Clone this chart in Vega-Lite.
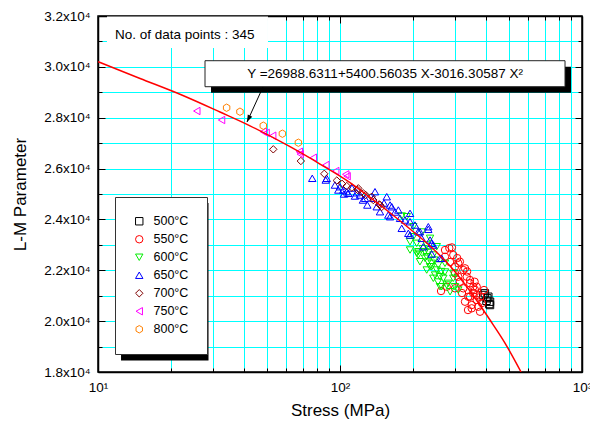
{
  "$schema": "https://vega.github.io/schema/vega-lite/v6.json",
  "width": 484,
  "height": 356,
  "autosize": {"type": "none"},
  "padding": {"left": 98, "top": 16, "right": 8, "bottom": 49},
  "background": "white",
  "config": {
    "font": "Liberation Sans",
    "view": {"stroke": "black", "strokeWidth": 1.5},
    "legend": {
      "orient": "none", "legendX": 17, "legendY": 181, "title": null,
      "fillColor": "white", "strokeColor": "#333333", "padding": 18,
      "labelFontSize": 12.5, "labelColor": "black", "labelOffset": 8,
      "symbolSize": 55, "symbolStrokeWidth": 1, "rowPadding": 5
    }
  },
  "datasets": {
    "pts": [
      {"t": "500°C", "stress": 397, "lm": 21094}, {"t": "500°C", "stress": 406, "lm": 20897}, {"t": "500°C", "stress": 416.8, "lm": 20764}, {"t": "500°C", "stress": 414, "lm": 20673}, {"t": "500°C", "stress": 410, "lm": 20960}, {"t": "500°C", "stress": 391, "lm": 21027}, {"t": "500°C", "stress": 416.8, "lm": 20634}, {"t": "500°C", "stress": 403, "lm": 20800},
      {"t": "550°C", "stress": 271.6, "lm": 22797}, {"t": "550°C", "stress": 293.8, "lm": 22600}, {"t": "550°C", "stress": 313, "lm": 22337}, {"t": "550°C", "stress": 298.7, "lm": 22140}, {"t": "550°C", "stress": 323.2, "lm": 22010}, {"t": "550°C", "stress": 334, "lm": 21747}, {"t": "550°C", "stress": 308.2, "lm": 21747}, {"t": "550°C", "stress": 276, "lm": 21353}, {"t": "550°C", "stress": 344.5, "lm": 21617}, {"t": "550°C", "stress": 355.4, "lm": 21353}, {"t": "550°C", "stress": 323.2, "lm": 21290}, {"t": "550°C", "stress": 339, "lm": 20960}, {"t": "550°C", "stress": 367.2, "lm": 21027}, {"t": "550°C", "stress": 350.1, "lm": 20634}, {"t": "550°C", "stress": 372.8, "lm": 20567}, {"t": "550°C", "stress": 361.3, "lm": 21224}, {"t": "550°C", "stress": 271.6, "lm": 22533}, {"t": "550°C", "stress": 308.2, "lm": 22274}, {"t": "550°C", "stress": 328.5, "lm": 22077}, {"t": "550°C", "stress": 298.7, "lm": 21880}, {"t": "550°C", "stress": 313, "lm": 21550}, {"t": "550°C", "stress": 298.7, "lm": 21290}, {"t": "550°C", "stress": 344.5, "lm": 21487}, {"t": "550°C", "stress": 344.5, "lm": 20960}, {"t": "550°C", "stress": 328.5, "lm": 20764}, {"t": "550°C", "stress": 367.2, "lm": 20830}, {"t": "550°C", "stress": 350.1, "lm": 20504}, {"t": "550°C", "stress": 379, "lm": 20370}, {"t": "550°C", "stress": 367.2, "lm": 21353}, {"t": "550°C", "stress": 285, "lm": 22325}, {"t": "550°C", "stress": 319.2, "lm": 21106}, {"t": "550°C", "stress": 393.6, "lm": 21224}, {"t": "550°C", "stress": 283, "lm": 22874}, {"t": "550°C", "stress": 261.5, "lm": 21184}, {"t": "550°C", "stress": 386, "lm": 20712}, {"t": "550°C", "stress": 338, "lm": 20437}, {"t": "550°C", "stress": 290, "lm": 22900}, {"t": "550°C", "stress": 335, "lm": 21950}, {"t": "550°C", "stress": 360, "lm": 21550}, {"t": "550°C", "stress": 380, "lm": 20950}, {"t": "550°C", "stress": 305, "lm": 22480}, {"t": "550°C", "stress": 355, "lm": 21100},
      {"t": "600°C", "stress": 188.7, "lm": 24106}, {"t": "600°C", "stress": 200.9, "lm": 23320}, {"t": "600°C", "stress": 207.5, "lm": 23060}, {"t": "600°C", "stress": 194.7, "lm": 22797}, {"t": "600°C", "stress": 210.6, "lm": 22600}, {"t": "600°C", "stress": 228.2, "lm": 22994}, {"t": "600°C", "stress": 224.5, "lm": 22470}, {"t": "600°C", "stress": 243, "lm": 22600}, {"t": "600°C", "stress": 235.6, "lm": 22140}, {"t": "600°C", "stress": 254.8, "lm": 22207}, {"t": "600°C", "stress": 247, "lm": 21814}, {"t": "600°C", "stress": 267.3, "lm": 21684}, {"t": "600°C", "stress": 263.2, "lm": 21353}, {"t": "600°C", "stress": 207.5, "lm": 22667}, {"t": "600°C", "stress": 224.5, "lm": 22730}, {"t": "600°C", "stress": 214, "lm": 22337}, {"t": "600°C", "stress": 239.3, "lm": 22274}, {"t": "600°C", "stress": 228.2, "lm": 22010}, {"t": "600°C", "stress": 251, "lm": 22010}, {"t": "600°C", "stress": 243, "lm": 21684}, {"t": "600°C", "stress": 259, "lm": 21353}, {"t": "600°C", "stress": 276, "lm": 21420}, {"t": "600°C", "stress": 285, "lm": 21157}, {"t": "600°C", "stress": 308.2, "lm": 21224}, {"t": "600°C", "stress": 179.9, "lm": 24134}, {"t": "600°C", "stress": 200.9, "lm": 23713}, {"t": "600°C", "stress": 194.7, "lm": 23123}, {"t": "600°C", "stress": 210.6, "lm": 22730}, {"t": "600°C", "stress": 235.6, "lm": 23257}, {"t": "600°C", "stress": 228.2, "lm": 22533}, {"t": "600°C", "stress": 251, "lm": 22926}, {"t": "600°C", "stress": 239.3, "lm": 22140}, {"t": "600°C", "stress": 271.6, "lm": 22274}, {"t": "600°C", "stress": 259, "lm": 21747}, {"t": "600°C", "stress": 293.8, "lm": 21880}, {"t": "600°C", "stress": 280.3, "lm": 21487}, {"t": "600°C", "stress": 298.7, "lm": 21353}, {"t": "600°C", "stress": 293.8, "lm": 21684}, {"t": "600°C", "stress": 218.2, "lm": 23505}, {"t": "600°C", "stress": 231, "lm": 22325}, {"t": "600°C", "stress": 271.6, "lm": 21932}, {"t": "600°C", "stress": 254, "lm": 21538}, {"t": "600°C", "stress": 220, "lm": 22850}, {"t": "600°C", "stress": 245, "lm": 22400}, {"t": "600°C", "stress": 262, "lm": 21950}, {"t": "600°C", "stress": 232, "lm": 22700},
      {"t": "650°C", "stress": 76.8, "lm": 25617}, {"t": "650°C", "stress": 87.3, "lm": 25550}, {"t": "650°C", "stress": 100, "lm": 25286}, {"t": "650°C", "stress": 106.6, "lm": 25090}, {"t": "650°C", "stress": 117.2, "lm": 25050}, {"t": "650°C", "stress": 88.1, "lm": 25617}, {"t": "650°C", "stress": 98.4, "lm": 25157}, {"t": "650°C", "stress": 103.2, "lm": 25157}, {"t": "650°C", "stress": 108.2, "lm": 25027}, {"t": "650°C", "stress": 121, "lm": 24960}, {"t": "650°C", "stress": 139.5, "lm": 25090}, {"t": "650°C", "stress": 137.3, "lm": 24830}, {"t": "650°C", "stress": 129.7, "lm": 24567}, {"t": "650°C", "stress": 141.8, "lm": 24500}, {"t": "650°C", "stress": 156, "lm": 24893}, {"t": "650°C", "stress": 161, "lm": 24567}, {"t": "650°C", "stress": 146.3, "lm": 24303}, {"t": "650°C", "stress": 158.3, "lm": 24173}, {"t": "650°C", "stress": 126.9, "lm": 24830}, {"t": "650°C", "stress": 163.6, "lm": 24500}, {"t": "650°C", "stress": 174.2, "lm": 24370}, {"t": "650°C", "stress": 161, "lm": 24106}, {"t": "650°C", "stress": 177, "lm": 24043}, {"t": "650°C", "stress": 194.7, "lm": 24240}, {"t": "650°C", "stress": 194.7, "lm": 23910}, {"t": "650°C", "stress": 191.5, "lm": 23454}, {"t": "650°C", "stress": 210.6, "lm": 23517}, {"t": "650°C", "stress": 231.7, "lm": 23611}, {"t": "650°C", "stress": 217.6, "lm": 23257}, {"t": "650°C", "stress": 239.3, "lm": 23060}, {"t": "650°C", "stress": 259, "lm": 22470}, {"t": "650°C", "stress": 179.9, "lm": 23650}, {"t": "650°C", "stress": 194.7, "lm": 23387}, {"t": "650°C", "stress": 214, "lm": 23517}, {"t": "650°C", "stress": 231.7, "lm": 23713}, {"t": "650°C", "stress": 235.6, "lm": 23190}, {"t": "650°C", "stress": 220.9, "lm": 22926}, {"t": "650°C", "stress": 243, "lm": 22994}, {"t": "650°C", "stress": 263.2, "lm": 22470}, {"t": "650°C", "stress": 239.3, "lm": 22640}, {"t": "650°C", "stress": 112.1, "lm": 25235}, {"t": "650°C", "stress": 95.3, "lm": 25353}, {"t": "650°C", "stress": 168.8, "lm": 24291}, {"t": "650°C", "stress": 185.6, "lm": 23977}, {"t": "650°C", "stress": 204.1, "lm": 23780}, {"t": "650°C", "stress": 152, "lm": 24645}, {"t": "650°C", "stress": 103.9, "lm": 25000}, {"t": "650°C", "stress": 115.3, "lm": 24920}, {"t": "650°C", "stress": 124.4, "lm": 24763},
      {"t": "700°C", "stress": 53.0, "lm": 26757}, {"t": "700°C", "stress": 68.9, "lm": 26297}, {"t": "700°C", "stress": 86.1, "lm": 25794}, {"t": "700°C", "stress": 97.0, "lm": 25530}, {"t": "700°C", "stress": 106.6, "lm": 25314}, {"t": "700°C", "stress": 118.4, "lm": 25157}, {"t": "700°C", "stress": 127.7, "lm": 24960}, {"t": "700°C", "stress": 137.3, "lm": 24763}, {"t": "700°C", "stress": 145.3, "lm": 24594}, {"t": "700°C", "stress": 148.6, "lm": 24488}, {"t": "700°C", "stress": 135.2, "lm": 24893}, {"t": "700°C", "stress": 119, "lm": 25223}, {"t": "700°C", "stress": 124.8, "lm": 25027}, {"t": "700°C", "stress": 146.3, "lm": 24567}, {"t": "700°C", "stress": 102, "lm": 25400}, {"t": "700°C", "stress": 112, "lm": 25250},
      {"t": "750°C", "stress": 25.6, "lm": 28264}, {"t": "750°C", "stress": 32.4, "lm": 27910}, {"t": "750°C", "stress": 48.2, "lm": 27450}, {"t": "750°C", "stress": 49.5, "lm": 27400}, {"t": "750°C", "stress": 52.7, "lm": 27292}, {"t": "750°C", "stress": 67.9, "lm": 26663}, {"t": "750°C", "stress": 68.5, "lm": 26570}, {"t": "750°C", "stress": 77.6, "lm": 26427}, {"t": "750°C", "stress": 87.4, "lm": 26140}, {"t": "750°C", "stress": 96.0, "lm": 25904}, {"t": "750°C", "stress": 105.6, "lm": 25774}, {"t": "750°C", "stress": 107, "lm": 25700},
      {"t": "800°C", "stress": 34.0, "lm": 28393}, {"t": "800°C", "stress": 38.6, "lm": 28236}, {"t": "800°C", "stress": 48.2, "lm": 27686}, {"t": "800°C", "stress": 57.8, "lm": 27371}, {"t": "800°C", "stress": 67.3, "lm": 27017}
    ],
    "fit": [
      {"stress": 10, "lm": 30203}, {"stress": 14.92, "lm": 29542}, {"stress": 22.18, "lm": 28893}, {"stress": 31.92, "lm": 28224}, {"stress": 42.47, "lm": 27682}, {"stress": 62.15, "lm": 26860}, {"stress": 82.68, "lm": 26179}, {"stress": 110, "lm": 25452}, {"stress": 146.3, "lm": 24567}, {"stress": 194.7, "lm": 23623}, {"stress": 235.6, "lm": 22954}, {"stress": 285, "lm": 22168}, {"stress": 344.5, "lm": 21184}, {"stress": 416.8, "lm": 20044}, {"stress": 480.6, "lm": 19139}, {"stress": 560, "lm": 18000}
    ],
    "textbg": [{"stress": 10.89, "stress2": 50.4, "lm": 31980, "lm2": 30741}],
    "legshadow": [{"stress": 12.45, "stress2": 28.62, "lm": 24645, "lm2": 18451}],
    "eqshadow": [{"stress": 29.31, "stress2": 900.6, "lm": 30006, "lm2": 28983}],
    "eqbox": [{"stress": 27.68, "stress2": 850.9, "lm": 30242, "lm2": 29219}],
    "arrow": [{"stress": 48.06, "lm": 29208, "o": 1}, {"stress": 41.28, "lm": 27831, "o": 2}],
    "arrowhead": [{"stress": 41.28, "lm": 27831}],
    "note": [{"stress": 11.75, "lm": 31253, "label": "No. of data points : 345"}],
    "eq": [{"stress": 153.5, "lm": 29719, "label": "Y =26988.6311+5400.56035 X-3016.30587 X²"}]
  },
  "resolve": {"axis": {"x": "independent", "y": "independent"}},
  "layer": [
    {
      "data": {"name": "pts"},
      "mark": {"type": "point", "filled": false, "strokeWidth": 1, "size": 55, "opacity": 1},
      "encoding": {
        "x": {"field": "stress", "type": "quantitative", "scale": {"type": "log", "domain": [10, 1000], "nice": false},
          "axis": {"orient": "bottom", "values": [10,20,30,40,50,60,70,80,90,100,200,300,400,500,600,700,800,900,1000],
            "labelExpr": "datum.value == 10 ? '10¹' : datum.value == 100 ? '10²' : datum.value == 1000 ? '10³' : ''",
            "labelOverlap": false, "labelFlush": false, "labelBound": false,
            "grid": true, "gridColor": "#00ffff", "gridWidth": 1, "gridOpacity": 1,
            "tickColor": "black", "tickWidth": 1,
            "tickSize": {"condition": {"test": "datum.value == 10 || datum.value == 100 || datum.value == 1000", "value": -7}, "value": -4},
            "domainColor": "black", "domainWidth": 1.5,
            "labelFontSize": 13.5, "labelColor": "black", "labelPadding": 15,
            "title": "Stress (MPa)", "titleFontSize": 17, "titleFontWeight": "normal", "titleColor": "black", "titlePadding": 6}},
        "y": {"field": "lm", "type": "quantitative", "scale": {"domain": [18000, 32000], "nice": false, "zero": false},
          "axis": {"orient": "left", "values": [18000,19000,20000,21000,22000,23000,24000,25000,26000,27000,28000,29000,30000,31000,32000],
            "labelExpr": "datum.value % 2000 == 0 ? format(datum.value / 10000, '.1f') + 'x10⁴' : ''",
            "labelOverlap": false, "labelFlush": false, "labelBound": false,
            "grid": true, "gridColor": "#00ffff", "gridWidth": 1, "gridOpacity": 1,
            "tickColor": "black", "tickWidth": 1,
            "tickSize": {"condition": {"test": "datum.value % 2000 == 0", "value": -7}, "value": -4},
            "domainColor": "black", "domainWidth": 1.5,
            "labelFontSize": 13.5, "labelColor": "black", "labelPadding": 15,
            "title": "L-M Parameter", "titleFontSize": 17, "titleFontWeight": "normal", "titleColor": "black", "titlePadding": 14}},
        "color": {"field": "t", "type": "nominal",
          "scale": {"domain": ["500°C","550°C","600°C","650°C","700°C","750°C","800°C"], "range": ["#000000","#ff0000","#00ee00","#0000ff","#800000","#ff00ff","#ff8000"]},
          "legend": {"orient": "none", "legendX": 17, "legendY": 181, "title": null}},
        "shape": {"field": "t", "type": "nominal",
          "scale": {"domain": ["500°C","550°C","600°C","650°C","700°C","750°C","800°C"], "range": ["square","circle","triangle-down","triangle-up","diamond","triangle-left","M0,-1L0.866,-0.5L0.866,0.5L0,1L-0.866,0.5L-0.866,-0.5Z"]},
          "legend": {"orient": "none", "legendX": 17, "legendY": 181, "title": null}}
      }
    },
    {
      "data": {"name": "textbg"},
      "mark": {"type": "rect", "fill": "white"},
      "encoding": {
        "x": {"field": "stress", "type": "quantitative", "scale": {"type": "log", "domain": [10, 1000], "nice": false}, "axis": null},
        "x2": {"field": "stress2"},
        "y": {"field": "lm", "type": "quantitative", "scale": {"domain": [18000, 32000], "nice": false, "zero": false}, "axis": null},
        "y2": {"field": "lm2"}
      }
    },
    {
      "data": {"name": "legshadow"},
      "mark": {"type": "rect", "fill": "black"},
      "encoding": {
        "x": {"field": "stress", "type": "quantitative", "scale": {"type": "log", "domain": [10, 1000], "nice": false}, "axis": null},
        "x2": {"field": "stress2"},
        "y": {"field": "lm", "type": "quantitative", "scale": {"domain": [18000, 32000], "nice": false, "zero": false}, "axis": null},
        "y2": {"field": "lm2"}
      }
    },
    {
      "data": {"name": "fit"},
      "mark": {"type": "line", "color": "#ff0000", "strokeWidth": 1.5, "interpolate": "monotone", "clip": true},
      "encoding": {
        "x": {"field": "stress", "type": "quantitative", "scale": {"type": "log", "domain": [10, 1000], "nice": false},
          "axis": {"orient": "top", "values": [10,20,30,40,50,60,70,80,90,100,200,300,400,500,600,700,800,900,1000], "labels": false, "grid": false, "title": null,
            "tickColor": "black", "tickWidth": 1,
            "tickSize": {"condition": {"test": "datum.value == 10 || datum.value == 100 || datum.value == 1000", "value": -7}, "value": -4},
            "domainColor": "black", "domainWidth": 1.5}},
        "y": {"field": "lm", "type": "quantitative", "scale": {"domain": [18000, 32000], "nice": false, "zero": false},
          "axis": {"orient": "right", "values": [18000,19000,20000,21000,22000,23000,24000,25000,26000,27000,28000,29000,30000,31000,32000], "labels": false, "grid": false, "title": null,
            "tickColor": "black", "tickWidth": 1,
            "tickSize": {"condition": {"test": "datum.value % 2000 == 0", "value": -7}, "value": -4},
            "domainColor": "black", "domainWidth": 1.5}}
      }
    },
    {
      "data": {"name": "eqshadow"},
      "mark": {"type": "rect", "fill": "black"},
      "encoding": {
        "x": {"field": "stress", "type": "quantitative", "scale": {"type": "log", "domain": [10, 1000], "nice": false}, "axis": null},
        "x2": {"field": "stress2"},
        "y": {"field": "lm", "type": "quantitative", "scale": {"domain": [18000, 32000], "nice": false, "zero": false}, "axis": null},
        "y2": {"field": "lm2"}
      }
    },
    {
      "data": {"name": "eqbox"},
      "mark": {"type": "rect", "fill": "white", "stroke": "#222222", "strokeWidth": 1},
      "encoding": {
        "x": {"field": "stress", "type": "quantitative", "scale": {"type": "log", "domain": [10, 1000], "nice": false}, "axis": null},
        "x2": {"field": "stress2"},
        "y": {"field": "lm", "type": "quantitative", "scale": {"domain": [18000, 32000], "nice": false, "zero": false}, "axis": null},
        "y2": {"field": "lm2"}
      }
    },
    {
      "data": {"name": "arrow"},
      "mark": {"type": "line", "color": "black", "strokeWidth": 1},
      "encoding": {
        "x": {"field": "stress", "type": "quantitative", "scale": {"type": "log", "domain": [10, 1000], "nice": false}, "axis": null},
        "y": {"field": "lm", "type": "quantitative", "scale": {"domain": [18000, 32000], "nice": false, "zero": false}, "axis": null},
        "order": {"field": "o"}
      }
    },
    {
      "data": {"name": "arrowhead"},
      "mark": {"type": "point", "shape": "M0,0L-0.35,1L0.35,1Z", "filled": true, "color": "black", "size": 200, "angle": 205, "opacity": 1},
      "encoding": {
        "x": {"field": "stress", "type": "quantitative", "scale": {"type": "log", "domain": [10, 1000], "nice": false}, "axis": null},
        "y": {"field": "lm", "type": "quantitative", "scale": {"domain": [18000, 32000], "nice": false, "zero": false}, "axis": null}
      }
    },
    {
      "data": {"name": "note"},
      "mark": {"type": "text", "fontSize": 13.5, "color": "black", "baseline": "middle", "align": "left", "font": "Liberation Sans"},
      "encoding": {
        "x": {"field": "stress", "type": "quantitative", "scale": {"type": "log", "domain": [10, 1000], "nice": false}, "axis": null},
        "y": {"field": "lm", "type": "quantitative", "scale": {"domain": [18000, 32000], "nice": false, "zero": false}, "axis": null},
        "text": {"field": "label"}
      }
    },
    {
      "data": {"name": "eq"},
      "mark": {"type": "text", "fontSize": 13.5, "color": "black", "baseline": "middle", "align": "center", "font": "Liberation Sans"},
      "encoding": {
        "x": {"field": "stress", "type": "quantitative", "scale": {"type": "log", "domain": [10, 1000], "nice": false}, "axis": null},
        "y": {"field": "lm", "type": "quantitative", "scale": {"domain": [18000, 32000], "nice": false, "zero": false}, "axis": null},
        "text": {"field": "label"}
      }
    }
  ]
}
